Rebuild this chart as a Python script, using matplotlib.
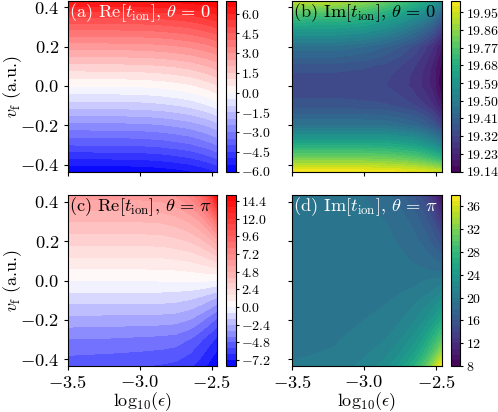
import numpy as np
import matplotlib
matplotlib.use('Agg')
import matplotlib.pyplot as plt
from matplotlib.colors import TwoSlopeNorm

plt.rcParams['font.family'] = ['cmr10', 'DejaVu Sans']
plt.rcParams['mathtext.fontset'] = 'cm'
plt.rcParams['axes.unicode_minus'] = False
plt.rcParams['axes.formatter.use_mathtext'] = True

# grid the values were read on
log_eps = [-3.5, -3.2, -3.0, -2.85, -2.75, -2.65, -2.58, -2.52, -2.463]
v_f = [-0.435, -0.37, -0.3, -0.2, -0.1, -0.05, 0.0, 0.05, 0.1, 0.2, 0.3, 0.37, 0.435]

# rows go from v_f = -0.435 up to +0.435
re_theta0 = [
    [-5.95, -5.93, -5.9, -5.8, -5.69, -5.55, -5.38, -5.21, -5.0],
    [-5.0, -4.98, -4.95, -4.85, -4.73, -4.58, -4.4, -4.22, -4.0],
    [-4.0, -3.98, -3.95, -3.85, -3.73, -3.58, -3.4, -3.22, -3.0],
    [-2.7, -2.68, -2.65, -2.55, -2.43, -2.28, -2.1, -1.92, -1.7],
    [-1.3, -1.28, -1.25, -1.15, -1.03, -0.88, -0.7, -0.52, -0.3],
    [-0.65, -0.63, -0.6, -0.5, -0.38, -0.23, -0.05, 0.13, 0.35],
    [0.0, 0.02, 0.05, 0.14, 0.26, 0.4, 0.57, 0.74, 0.95],
    [0.65, 0.67, 0.7, 0.79, 0.9, 1.04, 1.2, 1.37, 1.57],
    [1.3, 1.32, 1.35, 1.44, 1.54, 1.68, 1.84, 2.0, 2.2],
    [2.7, 2.72, 2.74, 2.83, 2.93, 3.06, 3.21, 3.36, 3.55],
    [4.2, 4.22, 4.24, 4.33, 4.43, 4.56, 4.71, 4.86, 5.05],
    [5.3, 5.32, 5.34, 5.42, 5.52, 5.64, 5.78, 5.92, 6.1],
    [6.6, 6.61, 6.62, 6.66, 6.7, 6.76, 6.83, 6.9, 6.98],
]
im_theta0 = [
    [20.0, 20.0, 20.0, 19.99, 19.985, 19.975, 19.96, 19.95, 19.93],
    [19.83, 19.83, 19.83, 19.82, 19.81, 19.79, 19.77, 19.74, 19.71],
    [19.67, 19.67, 19.67, 19.665, 19.65, 19.63, 19.6, 19.565, 19.52],
    [19.47, 19.47, 19.47, 19.465, 19.45, 19.43, 19.405, 19.37, 19.31],
    [19.365, 19.365, 19.36, 19.355, 19.34, 19.32, 19.295, 19.26, 19.2],
    [19.345, 19.345, 19.34, 19.33, 19.32, 19.295, 19.27, 19.235, 19.17],
    [19.335, 19.333, 19.33, 19.32, 19.305, 19.28, 19.25, 19.215, 19.15],
    [19.34, 19.34, 19.335, 19.325, 19.31, 19.28, 19.25, 19.215, 19.15],
    [19.365, 19.365, 19.355, 19.34, 19.32, 19.29, 19.26, 19.22, 19.16],
    [19.46, 19.46, 19.44, 19.41, 19.38, 19.34, 19.3, 19.26, 19.2],
    [19.63, 19.63, 19.61, 19.57, 19.53, 19.48, 19.44, 19.39, 19.32],
    [19.77, 19.76, 19.73, 19.68, 19.64, 19.59, 19.55, 19.5, 19.42],
    [19.93, 19.92, 19.87, 19.81, 19.76, 19.71, 19.67, 19.62, 19.55],
]
re_thetapi = [
    [-5.3, -5.4, -5.55, -5.7, -5.85, -6.25, -6.8, -7.4, -7.99],
    [-4.7, -4.8, -4.9, -5.0, -5.15, -5.6, -6.15, -6.75, -7.35],
    [-4.05, -4.1, -4.2, -4.28, -4.4, -4.85, -5.45, -6.05, -6.6],
    [-2.7, -2.75, -2.78, -2.82, -2.9, -3.25, -3.75, -4.35, -5.0],
    [-1.35, -1.35, -1.35, -1.37, -1.45, -1.65, -1.95, -2.3, -2.75],
    [-0.68, -0.68, -0.68, -0.68, -0.72, -0.8, -0.95, -1.15, -1.4],
    [0.0, 0.0, 0.02, 0.04, 0.07, 0.1, 0.1, 0.05, -0.1],
    [0.68, 0.68, 0.68, 0.7, 0.75, 0.85, 0.97, 1.1, 1.25],
    [1.35, 1.35, 1.35, 1.38, 1.48, 1.65, 1.88, 2.15, 2.55],
    [2.7, 2.7, 2.7, 2.75, 2.95, 3.25, 3.7, 4.3, 5.2],
    [4.0, 4.0, 4.02, 4.1, 4.35, 4.9, 5.6, 6.7, 8.5],
    [5.0, 5.0, 5.02, 5.15, 5.5, 6.2, 7.2, 8.8, 11.4],
    [5.9, 5.9, 5.95, 6.1, 6.5, 7.5, 8.9, 11.0, 15.0],
]
im_thetapi = [
    [20.1, 20.4, 21.3, 22.5, 24.3, 27.0, 30.0, 33.5, 37.8],
    [19.85, 20.1, 20.8, 21.7, 23.0, 25.0, 27.3, 30.0, 33.5],
    [19.7, 19.9, 20.4, 21.0, 21.9, 23.5, 25.3, 27.5, 30.0],
    [19.65, 19.75, 20.0, 20.4, 20.9, 21.9, 23.0, 24.3, 26.0],
    [19.6, 19.65, 19.75, 19.9, 20.2, 20.7, 21.3, 22.0, 23.0],
    [19.6, 19.6, 19.65, 19.75, 19.9, 20.1, 20.5, 21.0, 21.6],
    [19.55, 19.6, 19.6, 19.65, 19.7, 19.8, 20.0, 20.2, 20.5],
    [19.5, 19.5, 19.5, 19.45, 19.35, 19.2, 19.1, 18.95, 18.8],
    [19.5, 19.5, 19.5, 19.4, 19.2, 18.9, 18.6, 18.2, 17.7],
    [19.5, 19.5, 19.4, 19.2, 18.9, 18.3, 17.6, 16.6, 15.2],
    [19.5, 19.45, 19.3, 19.0, 18.5, 17.6, 16.5, 15.1, 12.8],
    [19.45, 19.4, 19.15, 18.7, 18.0, 16.8, 15.5, 13.7, 11.0],
    [19.4, 19.3, 19.0, 18.3, 17.4, 15.8, 14.2, 12.0, 9.0],
]

xticks = [-3.5, -3.0, -2.5]
yticks = [-0.4, -0.2, 0.0, 0.2, 0.4]
cb_ticks_a = [-6.0, -4.5, -3.0, -1.5, 0.0, 1.5, 3.0, 4.5, 6.0]
cb_ticks_b = [19.14, 19.23, 19.32, 19.41, 19.50, 19.59, 19.68, 19.77, 19.86, 19.95]
cb_ticks_c = [-7.2, -4.8, -2.4, 0.0, 2.4, 4.8, 7.2, 9.6, 12.0, 14.4]
cb_ticks_d = [8, 12, 16, 20, 24, 28, 32, 36]

W, H = 498., 412.

def box(x0, x1, y0, y1):
    # pixel box (y down) to figure fractions
    return [x0 / W, 1 - y1 / H, (x1 - x0) / W, (y1 - y0) / H]

def fmt(vals, n):
    return ['$%.*f$' % (n, q) for q in vals]

fig = plt.figure(figsize=(4.98, 4.12), dpi=100)

panels = [
    (re_theta0, np.arange(-6, 7.01, 0.5), 'bwr', TwoSlopeNorm(0, -6, 7), cb_ticks_a, 1,
     r'(a) $\mathrm{Re}[t_\mathrm{ion}],\, \theta\, =\, 0$', 'white', 67.5, 0.5),
    (im_theta0, np.arange(19.14, 20.02, 0.03), 'viridis', None, cb_ticks_b, 2,
     r'(b) $\mathrm{Im}[t_\mathrm{ion}],\, \theta\, =\, 0$', 'black', 292, 0.5),
    (re_thetapi, np.arange(-8, 15.21, 0.8), 'bwr', TwoSlopeNorm(0, -8, 15.2), cb_ticks_c, 1,
     r'(c) $\mathrm{Re}[t_\mathrm{ion}],\, \theta\, =\, \pi$', 'black', 67.5, 195),
    (im_thetapi, np.arange(8, 38.01, 1.0), 'viridis', None, cb_ticks_d, 0,
     r'(d) $\mathrm{Im}[t_\mathrm{ion}],\, \theta\, =\, \pi$', 'white', 292, 195),
]

for i, (z, levels, cmap, norm, cbt, nd, title, tcol, left, top) in enumerate(panels):
    ax = fig.add_axes(box(left, left + 149.5, top, top + 171))
    cs = ax.contourf(log_eps, v_f, np.array(z), levels=levels, cmap=cmap, norm=norm)
    ax.set_xlim(-3.5, -2.463)
    ax.set_ylim(-0.435, 0.435)
    ax.set_xticks(xticks)
    ax.set_yticks(yticks)
    ax.tick_params(length=3, pad=3)
    if i >= 2:
        ax.set_xticklabels(fmt(xticks, 1), fontsize=13.3)
        ax.set_xlabel(r'$\log_{10}\!(\epsilon)$', fontsize=13)
        ax.xaxis.set_label_coords(0.5, -24.5 / 171)
    else:
        ax.set_xticklabels([])
    if i % 2 == 0:
        ax.set_yticklabels(fmt(yticks, 1), fontsize=13.3)
        ax.set_ylabel(r'$v_\mathrm{f}$ (a.u.)', fontsize=13)
        ax.yaxis.set_label_coords(-43.5 / 149.5, 0.5)
    else:
        ax.set_yticklabels([])
    ax.text(0.008, 0.93, title, color=tcol, fontsize=13.2, transform=ax.transAxes, va='center')

    cax = fig.add_axes(box(left + 158.5, left + 168, top, top + 171))
    cb = fig.colorbar(cs, cax=cax, ticks=cbt)
    cb.ax.set_yticklabels(fmt(cbt, nd), fontsize=10)
    cb.ax.tick_params(length=2.5, pad=1.5)

fig.savefig('out.png', dpi=100)
